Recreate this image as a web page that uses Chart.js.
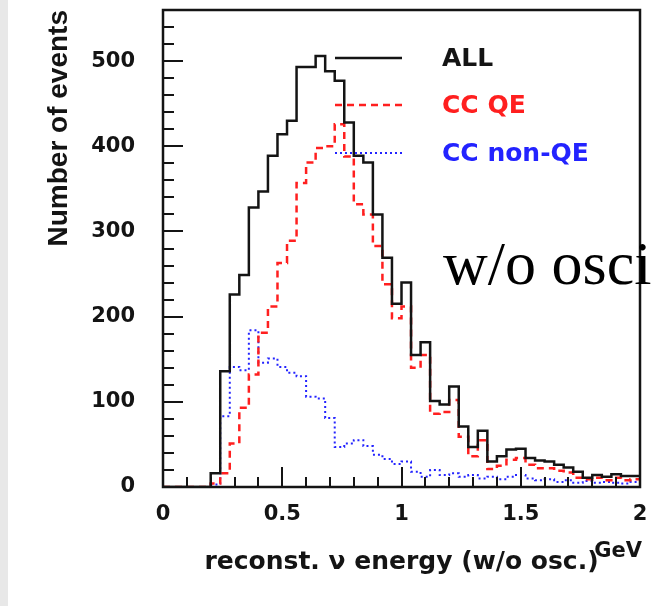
<!DOCTYPE html>
<html lang="en">
<head>
  <meta charset="UTF-8">
  <title>Reconstructed neutrino energy (w/o osc.)</title>
  <style>
    * { box-sizing: border-box; }
    html, body { margin: 0; padding: 0; background: white; overflow: hidden; }
    .wrap { position: relative; width: 652px; height: 606px; }
    .strip { position: absolute; left: 0; top: 0; width: 8px; height: 606px; background: #e8e8e8; }
    canvas { position: absolute; left: 0; top: 0; }
    .note {
      position: absolute; left: 443px; top: 231px;
      font-family: "Liberation Serif", "Times New Roman", serif;
      font-size: 62px; line-height: 64px; color: #000; white-space: nowrap;
    }
  </style>
</head>
<body>
  <div class="wrap">
    <div class="strip"></div>
    <canvas id="histChart" width="652" height="606"></canvas>
    <div class="note">w/o osci</div>
  </div>

  <script src="https://cdn.jsdelivr.net/npm/chart.js"></script>

  <script>
    // Histogram: 50 bins of 0.04 GeV from 0 to 2 GeV
    const binWidth = 0.04;
    const allEvents = [0, 0, 0, 0, 0, 16, 136, 226, 249, 328,
                       347, 389, 414, 430, 493, 493, 506, 488, 477, 428,
                       389, 381, 320, 269, 215, 240, 155, 170, 101, 97,
                       118, 71, 47, 66, 30, 36, 44, 45, 34, 31,
                       30, 26, 23, 18, 11, 14, 12, 15, 13, 13];
    const ccQE = [0, 0, 0, 0, 0, 4, 16, 51, 93, 132,
                  181, 212, 263, 289, 357, 381, 398, 400, 426, 388,
                  332, 320, 283, 238, 198, 212, 140, 155, 86, 88,
                  102, 59, 36, 55, 21, 25, 32, 34, 26, 22,
                  22, 19, 17, 11, 9, 11, 8, 11, 8, 9];
    const ccNonQE = [0, 0, 0, 0, 0, 3, 83, 141, 137, 184,
                     146, 151, 141, 134, 130, 106, 104, 81, 47, 51,
                     55, 48, 38, 33, 27, 30, 18, 12, 20, 14,
                     16, 12, 14, 10, 12, 9, 12, 14, 10, 8,
                     9, 6, 8, 5, 7, 5, 6, 5, 4, 6];
    const seriesNames = ['ALL', 'CC QE', 'CC non-QE'];
    const xTickValues = [0, 0.5, 1, 1.5, 2];
    const xTickLabels = ['0', '0.5', '1', '1.5', '2'];
    const yTickValues = [0, 100, 200, 300, 400, 500];
    const yTickLabels = ['0', '100', '200', '300', '400', '500'];

    const RED = '#ff1f1f';
    const BLUE = '#2323ff';
    const INK = '#141414';

    // bin contents -> step points at the bin edges
    function toSteps(values) {
      const pts = values.map((v, i) => ({ x: i * binWidth, y: v }));
      pts.push({ x: values.length * binWidth, y: values[values.length - 1] });
      return pts;
    }

    // frame + inward ticks, ROOT style
    const framePlugin = {
      id: 'frame',
      afterDatasetsDraw(chart) {
        const { ctx, chartArea: a, scales: { x, y } } = chart;
        ctx.save();
        ctx.strokeStyle = INK;
        ctx.lineWidth = 2.5;
        ctx.strokeRect(a.left, a.top, a.right - a.left, a.bottom - a.top);
        ctx.lineWidth = 2;
        ctx.beginPath();
        for (let v = 0; v <= 560; v += 20) {
          const py = Math.round(y.getPixelForValue(v));
          const len = v % 100 === 0 ? 20 : 11;
          ctx.moveTo(a.left, py);
          ctx.lineTo(a.left + len, py);
        }
        for (let k = 0; k <= 20; k++) {
          const px = Math.round(x.getPixelForValue(k / 10));
          const len = k % 5 === 0 ? 20 : 10;
          ctx.moveTo(px, a.bottom);
          ctx.lineTo(px, a.bottom - len);
        }
        ctx.stroke();
        ctx.restore();
      },
      afterDraw(chart) {
        const { ctx, chartArea: a } = chart;
        ctx.save();
        // legend
        const rows = [58, 105, 153];
        chart.data.datasets.forEach((ds, i) => {
          ctx.strokeStyle = ds.borderColor;
          ctx.lineWidth = ds.borderWidth;
          ctx.setLineDash(ds.borderDash || []);
          ctx.beginPath();
          ctx.moveTo(335, rows[i]);
          ctx.lineTo(402, rows[i]);
          ctx.stroke();
          ctx.setLineDash([]);
          ctx.fillStyle = ds.borderColor;
          ctx.font = 'bold 25px "DejaVu Sans"';
          ctx.textBaseline = 'middle';
          ctx.textAlign = 'left';
          ctx.fillText(ds.label, 442, rows[i] + 1);
        });
        // unit
        ctx.fillStyle = INK;
        ctx.font = 'bold 21px "DejaVu Sans"';
        ctx.textAlign = 'right';
        ctx.textBaseline = 'alphabetic';
        ctx.fillText('GeV', a.right + 2, 557);
        ctx.restore();
      }
    };

    const ctx = document.getElementById('histChart').getContext('2d');
    new Chart(ctx, {
      type: 'line',
      data: {
        datasets: [
          { label: seriesNames[0], data: toSteps(allEvents), borderColor: INK, borderWidth: 2.5 },
          { label: seriesNames[1], data: toSteps(ccQE), borderColor: RED, borderWidth: 2.5, borderDash: [7, 5] },
          { label: seriesNames[2], data: toSteps(ccNonQE), borderColor: BLUE, borderWidth: 2, borderDash: [2, 3] }
        ].map(d => Object.assign(d, { stepped: 'before', pointRadius: 0, fill: false, tension: 0 }))
      },
      options: {
        responsive: false,
        animation: false,
        devicePixelRatio: 1,
        layout: { padding: { left: 0, right: 12, top: 10, bottom: 0 } },
        plugins: { legend: { display: false }, tooltip: { enabled: false } },
        scales: {
          x: {
            type: 'linear', min: 0, max: 2,
            grid: { display: false, drawTicks: false },
            border: { display: false },
            afterBuildTicks: s => { s.ticks = xTickValues.map(v => ({ value: v })); },
            ticks: {
              color: INK, padding: 15, maxRotation: 0, autoSkip: false,
              font: { family: 'DejaVu Sans', size: 21, weight: 'bold' },
              callback: (v, i) => xTickLabels[i]
            },
            title: {
              display: true, text: 'reconst. ν energy (w/o osc.)', color: INK,
              font: { family: 'DejaVu Sans', size: 25, weight: 'bold' },
              padding: { top: 0, bottom: 29 }
            },
            afterFit: s => { s.height = 119; s.paddingLeft = 0; s.paddingRight = 0; }
          },
          y: {
            type: 'linear', min: 0, max: 560,
            grid: { display: false, drawTicks: false },
            border: { display: false },
            afterBuildTicks: s => { s.ticks = yTickValues.map(v => ({ value: v })); },
            ticks: {
              color: INK, padding: 28, autoSkip: false,
              font: { family: 'DejaVu Sans', size: 21, weight: 'bold' },
              callback: (v, i) => yTickLabels[i]
            },
            title: {
              display: true, text: 'Number of events', color: INK, align: 'end',
              font: { family: 'Liberation Sans', size: 28, weight: 'bold' },
              padding: { top: 42, bottom: 0 }
            },
            afterFit: s => { s.width = 163; s.paddingTop = 0; s.paddingBottom = 0; }
          }
        }
      },
      plugins: [framePlugin]
    });
  </script>
</body>
</html>
